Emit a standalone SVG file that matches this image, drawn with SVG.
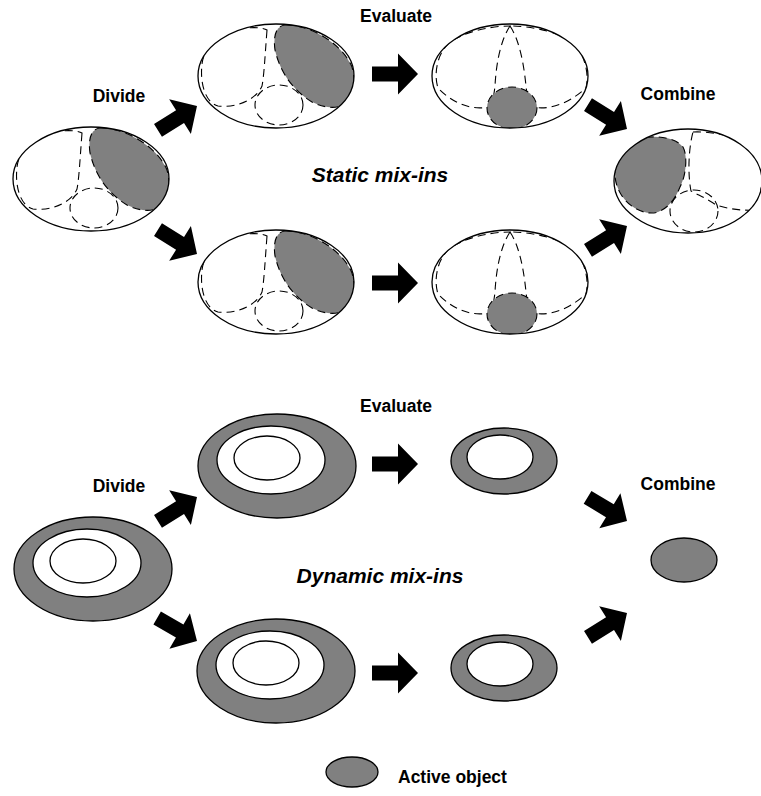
<svg xmlns="http://www.w3.org/2000/svg" xmlns:xlink="http://www.w3.org/1999/xlink" width="761" height="796" viewBox="0 0 761 796">
  <style>
    .outline { fill: none; stroke: #000; stroke-width: 1.3; }
    .dash { fill: none; stroke: #000; stroke-width: 1.1; stroke-dasharray: 8 5; }
    .active { fill: #808080; }
    .ring { fill: #808080; stroke: #000; stroke-width: 1.3; }
    .hole { fill: #fff; stroke: #000; stroke-width: 1.3; }
    .label { font-family: "Liberation Sans", Arial, sans-serif; font-weight: bold; font-size: 17.5px; fill: #000; }
    .title { font-family: "Liberation Sans", Arial, sans-serif; font-weight: bold; font-style: italic; font-size: 21px; fill: #000; }
    .arrow { fill: #000; }
  </style>
  <defs>
    <!-- block arrow, tip at the origin, pointing along +x -->
    <path id="blockArrow" d="M -46,-7.5 L -20,-7.5 L -20,-20.5 L 0,0 L -20,20.5 L -20,7.5 L -46,7.5 Z"/>
    <clipPath id="clipObj">
      <ellipse cx="0" cy="0" rx="78" ry="52"/>
    </clipPath>
    <clipPath id="clipObjD">
      <ellipse cx="0" cy="0" rx="74" ry="52"/>
    </clipPath>

    <!-- object split into three mix-in regions, upper-right region active -->
    <g id="eggObject">
      <g clip-path="url(#clipObj)">
        <path class="dash" d="M -9,-46 C -11,-20 -12,0 -14,10 C -20,24 -40,32 -58,30 C -72,26 -76,5 -74,-12 C -72,-30 -55,-46 -30,-48 C -20,-49 -12,-48 -9,-46 Z"/>
        <ellipse class="dash" cx="3" cy="29" rx="24" ry="20"/>
        <path class="active dash" d="M 9,-51 C 30,-52 65,-35 76,-9 C 80,5 78,20 70,27 C 63,33 50,33 36,26 C 20,16 5,0 -1,-26 C -3,-40 0,-50 9,-51 Z"/>
      </g>
      <ellipse class="outline" cx="0" cy="0" rx="78" ry="52"/>
    </g>

    <!-- object split into three mix-in regions, bottom region active -->
    <g id="splitObject">
      <g clip-path="url(#clipObj)">
        <path class="dash" d="M 0,-50 C -10,-35 -14,-10 -15,10 C -16,20 -18,28 -22,31 C -35,34 -55,30 -72,12 C -76,0 -74,-20 -62,-32 C -48,-44 -20,-50 0,-50 Z"/>
        <path class="dash" d="M 0,-50 C 10,-35 14,-10 16,10 C 17,20 19,28 23,31 C 36,34 56,30 76,12 C 79,0 76,-20 64,-32 C 50,-44 22,-50 0,-50 Z"/>
        <ellipse class="active dash" cx="2" cy="32" rx="25" ry="21"/>
      </g>
      <ellipse class="outline" cx="0" cy="0" rx="78" ry="52"/>
    </g>

    <!-- dynamic mix-in object: active shell around nested parts -->
    <g id="ringLarge">
      <ellipse class="ring" cx="0" cy="0" rx="79" ry="52"/>
      <ellipse class="hole" cx="-6" cy="-6" rx="54" ry="34"/>
      <ellipse class="hole" cx="-10" cy="-8" rx="33" ry="22"/>
    </g>
    <g id="ringSmall">
      <ellipse class="ring" cx="0" cy="0" rx="53" ry="33"/>
      <ellipse class="hole" cx="-4" cy="-4" rx="33" ry="22"/>
    </g>
  </defs>

  <!-- ===== Static mix-ins ===== -->
  <g id="static-divide" transform="translate(91,179)"><use xlink:href="#eggObject"/></g>
  <g id="static-upper-split" transform="translate(276,76)"><use xlink:href="#eggObject"/></g>
  <g id="static-lower-split" transform="translate(276,282)"><use xlink:href="#eggObject"/></g>
  <g id="static-upper-eval" transform="translate(510,76)"><use xlink:href="#splitObject"/></g>
  <g id="static-lower-eval" transform="translate(510,282)"><use xlink:href="#splitObject"/></g>
  <g id="static-combine" transform="translate(688,181)">
    <g clip-path="url(#clipObjD)">
      <path class="dash" d="M 5,-49 C 30,-50 60,-42 70,-25 C 76,-10 74,15 68,29 C 55,30 40,28 28,24 C 20,18 10,14 3,10 C 0,-5 0,-30 5,-49 Z"/>
      <ellipse class="dash" cx="6" cy="30" rx="24" ry="21"/>
      <path class="active dash" d="M -55,-41 C -40,-46 -15,-46 -5,-34 C 0,-25 -2,-5 -8,6 C -12,16 -18,26 -30,31 C -42,35 -58,27 -66,15 C -74,3 -75,-10 -70,-25 C -67,-34 -62,-38 -55,-41 Z"/>
    </g>
    <ellipse class="outline" cx="0" cy="0" rx="74" ry="52"/>
  </g>

  <!-- ===== Dynamic mix-ins ===== -->
  <g id="dynamic-divide" transform="translate(93,569)"><use xlink:href="#ringLarge"/></g>
  <g id="dynamic-upper-split" transform="translate(277,466)"><use xlink:href="#ringLarge"/></g>
  <g id="dynamic-lower-split" transform="translate(276,671)"><use xlink:href="#ringLarge"/></g>
  <g id="dynamic-upper-eval" transform="translate(504,461)"><use xlink:href="#ringSmall"/></g>
  <g id="dynamic-lower-eval" transform="translate(504,668)"><use xlink:href="#ringSmall"/></g>
  <g id="dynamic-combine"><ellipse class="ring" cx="684" cy="560" rx="33" ry="22"/></g>

  <!-- legend -->
  <g id="legend">
    <ellipse class="ring" cx="352" cy="772" rx="26" ry="15"/>
    <text class="label" x="398" y="783">Active object</text>
  </g>

  <!-- connectors -->
  <g id="connectors" class="arrow">
    <use xlink:href="#blockArrow" transform="translate(197,106) rotate(-32)"/>
    <use xlink:href="#blockArrow" transform="translate(197,254) rotate(32)"/>
    <use xlink:href="#blockArrow" transform="translate(418,74)"/>
    <use xlink:href="#blockArrow" transform="translate(418,283)"/>
    <use xlink:href="#blockArrow" transform="translate(627,129) rotate(32)"/>
    <use xlink:href="#blockArrow" transform="translate(627,226) rotate(-32)"/>

    <use xlink:href="#blockArrow" transform="translate(197,497) rotate(-32)"/>
    <use xlink:href="#blockArrow" transform="translate(197,641) rotate(30)"/>
    <use xlink:href="#blockArrow" transform="translate(418,464)"/>
    <use xlink:href="#blockArrow" transform="translate(418,673)"/>
    <use xlink:href="#blockArrow" transform="translate(627,521) rotate(31)"/>
    <use xlink:href="#blockArrow" transform="translate(627,613) rotate(-32)"/>
  </g>

  <!-- labels -->
  <g id="labels" text-anchor="middle">
    <text class="label" x="119" y="102">Divide</text>
    <text class="label" x="396" y="22">Evaluate</text>
    <text class="label" x="678" y="100">Combine</text>
    <text class="title" x="380" y="182">Static mix-ins</text>

    <text class="label" x="119" y="492">Divide</text>
    <text class="label" x="396" y="412">Evaluate</text>
    <text class="label" x="678" y="490">Combine</text>
    <text class="title" x="380" y="583">Dynamic mix-ins</text>
  </g>
</svg>
